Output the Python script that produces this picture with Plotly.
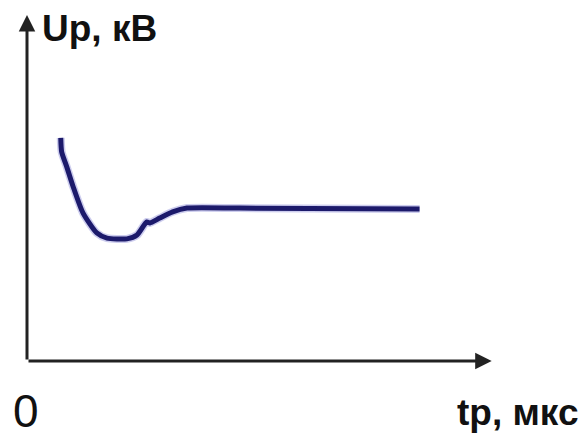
import plotly.graph_objects as go

# Breakdown voltage Up versus time tp (relative units)
t_values = [0.73, 0.75, 0.86, 1.00, 1.21, 1.51, 1.73, 2.16, 2.38, 2.59, 2.66, 2.87, 3.15, 3.46, 4.60, 8.49]
u_values = [6.45, 6.04, 5.61, 5.03, 4.28, 3.70, 3.55, 3.53, 3.64, 4.02, 3.99, 4.13, 4.31, 4.42, 4.42, 4.39]

y_label = "Up, кВ"
x_label = "tp, мкс"
origin_label = "0"

X_MAX = 10.1
Y_MAX = 10.0
AXIS_COLOR = "#222222"
LINE_COLOR = "#1c1a6b"
FONT = "Liberation Sans Narrow, Arial Narrow, Liberation Sans, Arial, sans-serif"

fig = go.Figure()

# soft halo under the curve
fig.add_trace(go.Scatter(
    x=t_values, y=u_values, mode="lines",
    line=dict(color="rgba(90,90,200,0.30)", width=8, shape="spline", smoothing=0.6),
    hoverinfo="skip", showlegend=False,
))
fig.add_trace(go.Scatter(
    x=t_values, y=u_values, mode="lines",
    line=dict(color=LINE_COLOR, width=5, shape="spline", smoothing=0.6),
    showlegend=False,
))

# axes drawn as arrows from the origin
fig.add_annotation(x=X_MAX - 0.05, y=0, ax=0, ay=0, xref="x", yref="y", axref="x", ayref="y",
                   showarrow=True, arrowhead=2, arrowsize=1.1, arrowwidth=3, arrowcolor=AXIS_COLOR, text="")
fig.add_annotation(x=0, y=Y_MAX, ax=0, ay=0, xref="x", yref="y", axref="x", ayref="y",
                   showarrow=True, arrowhead=2, arrowsize=1.1, arrowwidth=3, arrowcolor=AXIS_COLOR, text="")

fig.add_annotation(x=0.028, y=1.026, xref="paper", yref="paper", text="<b>" + y_label + "</b>",
                   showarrow=False, xanchor="left", yanchor="top",
                   font=dict(family=FONT, size=37, color="#111111"))
fig.add_annotation(x=-0.002, y=-0.145, xref="paper", yref="paper", text=origin_label,
                   showarrow=False, xanchor="center", yanchor="middle",
                   font=dict(family=FONT, size=46, color="#111111"))
fig.add_annotation(x=1.185, y=-0.15, xref="paper", yref="paper", text="<b>" + x_label + "</b>",
                   showarrow=False, xanchor="right", yanchor="middle",
                   font=dict(family=FONT, size=37, color="#111111"))

fig.update_xaxes(range=[0, X_MAX], visible=False, fixedrange=True)
fig.update_yaxes(range=[0, Y_MAX], visible=False, fixedrange=True)

fig.update_layout(
    width=586, height=440,
    margin=dict(l=27, r=92, t=15, b=79),
    paper_bgcolor="white", plot_bgcolor="white",
    showlegend=False,
)

fig.write_html("out.html")
